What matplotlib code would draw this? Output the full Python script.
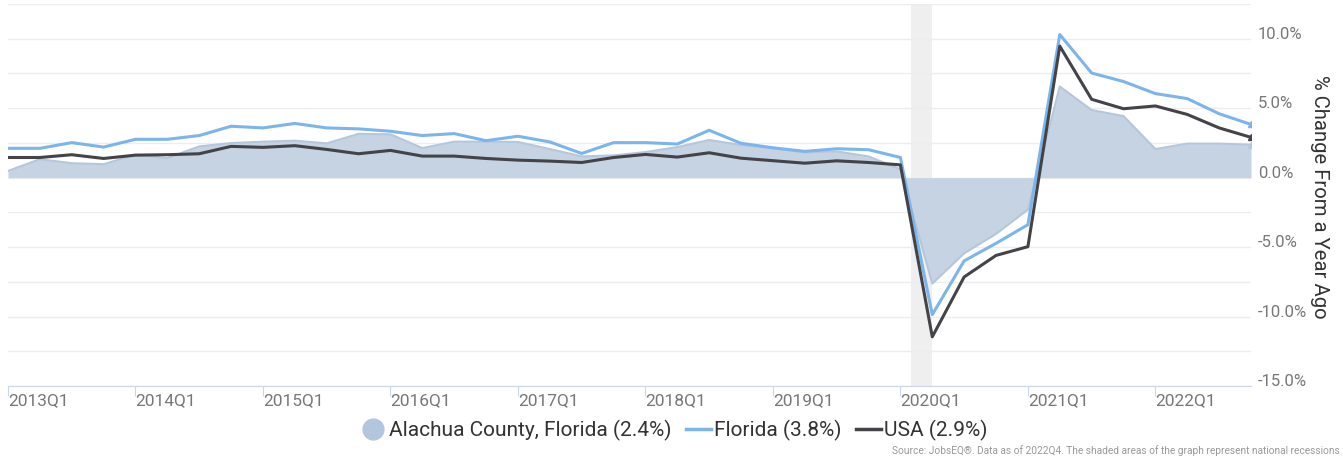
import matplotlib.pyplot as plt
from matplotlib.lines import Line2D
from matplotlib.transforms import ScaledTranslation

plt.rcParams['font.family'] = ['Roboto', 'DejaVu Sans']

#Data (year-over-year % change, 2013Q1 - 2022Q4)
quarters = [f"{y}Q{q}" for y in range(2013, 2023) for q in range(1, 5)]
alachua = [0.48, 1.33, 1.04, 0.97, 1.65, 1.40, 2.25, 2.49, 2.59, 2.66,
           2.47, 3.15, 3.12, 2.13, 2.59, 2.59, 2.57, 2.06, 1.53, 1.60,
           1.84, 2.20, 2.71, 2.35, 2.10, 1.82, 1.89, 1.53, 0.60, -7.63,
           -5.45, -4.05, -2.30, 6.56, 4.87, 4.43, 2.06, 2.45, 2.45, 2.37]
florida = [2.11, 2.11, 2.52, 2.20, 2.76, 2.76, 3.03, 3.70, 3.58, 3.90,
           3.58, 3.51, 3.34, 3.03, 3.17, 2.66, 2.98, 2.57, 1.74, 2.52,
           2.52, 2.42, 3.41, 2.47, 2.15, 1.89, 2.08, 2.01, 1.45, -9.86,
           -5.99, -4.73, -3.39, 10.30, 7.53, 6.92, 6.05, 5.69, 4.60, 3.83]
usa = [1.45, 1.45, 1.65, 1.38, 1.62, 1.65, 1.72, 2.25, 2.18, 2.30,
       2.03, 1.72, 1.96, 1.55, 1.55, 1.38, 1.26, 1.19, 1.09, 1.45,
       1.67, 1.48, 1.79, 1.40, 1.22, 1.04, 1.21, 1.09, 0.92, -11.46,
       -7.15, -5.60, -4.97, 9.47, 5.64, 4.96, 5.16, 4.55, 3.58, 2.90]
labels = ["Alachua County, Florida (2.4%)", "Florida (3.8%)", "USA (2.9%)"]
recession = ("2020Q1", "2020Q2")

x = list(range(len(quarters)))

fig = plt.figure(figsize=(13.43, 4.58), dpi=100)
ax = fig.add_axes([8/1343, 1-386/458, (1251-8)/1343, (386-4)/458])

#Recession shading (Feb - Apr 2020)
r0 = quarters.index(recession[0])
r1 = quarters.index(recession[1])
ax.axvspan(r0 + 1/3, r1, color='#efefef', lw=0, zorder=0)

#Series
ax.fill_between(x, alachua, 0, color='#c5d3e3', lw=0, zorder=2)
ax.plot(x, alachua, color='#b6c7db', lw=1.5, zorder=2)
ax.plot(x, florida, color='#7cb5ec', lw=2.2, zorder=3)
ax.plot(x, usa, color='#434348', lw=2.2, zorder=4)
ax.plot(x[-1], florida[-1], marker='^', color='#7cb5ec', ms=5, zorder=5)
ax.plot(x[-1], usa[-1], marker='^', color='#434348', ms=5, zorder=5)
ax.plot(x[-1], alachua[-1], marker='^', color='#b6c7db', ms=5, zorder=5)

#Spines
for s in ['top', 'right', 'left']:
    ax.spines[s].set_visible(False)
ax.spines['bottom'].set_color('#ccd6eb')

#Axes
ax.set_xlim(0, len(quarters) - 1)
ax.set_ylim(-15, 12.5)
ax.set_yticks([-15, -10, -5, 0, 5, 10])
ax.set_yticks([-12.5, -7.5, -2.5, 2.5, 7.5, 12.5], minor=True)
ax.set_yticklabels([f"{v:.1f}%" for v in [-15, -10, -5, 0, 5, 10]])
ax.yaxis.tick_right()
ax.tick_params(axis='y', which='both', length=0, pad=5, labelsize=12, labelcolor='#777777')
ax.grid(axis='y', which='both', color='#ededed', lw=1, zorder=1)
for lab in ax.get_yticklabels():
    lab.set_transform(lab.get_transform() + ScaledTranslation(0, 6/100, fig.dpi_scale_trans))

xt = x[::4]
ax.set_xticks(xt)
ax.set_xticklabels([quarters[i] for i in xt])
ax.tick_params(axis='x', length=7, color='#ccd6eb', pad=-2, labelsize=12.5, labelcolor='#777777')
for lab in ax.get_xticklabels():
    lab.set_horizontalalignment('left')

#Y label
fig.text(1320/1343, 1-197/458, "% Change From a Year Ago", rotation=270,
         ha='center', va='center', fontsize=14.6, color='#333333')

#Legend
handles = [Line2D([], [], marker='o', ls='none', color='#b3c6dd', ms=15),
           Line2D([], [], color='#7cb5ec', lw=2.5),
           Line2D([], [], color='#434348', lw=2.5)]
fig.legend(handles, labels, loc='center', bbox_to_anchor=(674/1343, 1-430/458),
           ncol=3, frameon=False, fontsize=15, handlelength=1.2, handletextpad=0.15,
           columnspacing=0.7, labelcolor='#333333')

#Source
fig.text(1340/1343, 1-451/458,
         "Source: JobsEQ\u00ae. Data as of 2022Q4. The shaded areas of the graph represent national recessions",
         ha='right', va='center', fontsize=7.3, color='#999999')

plt.savefig('out.png', dpi=100)
